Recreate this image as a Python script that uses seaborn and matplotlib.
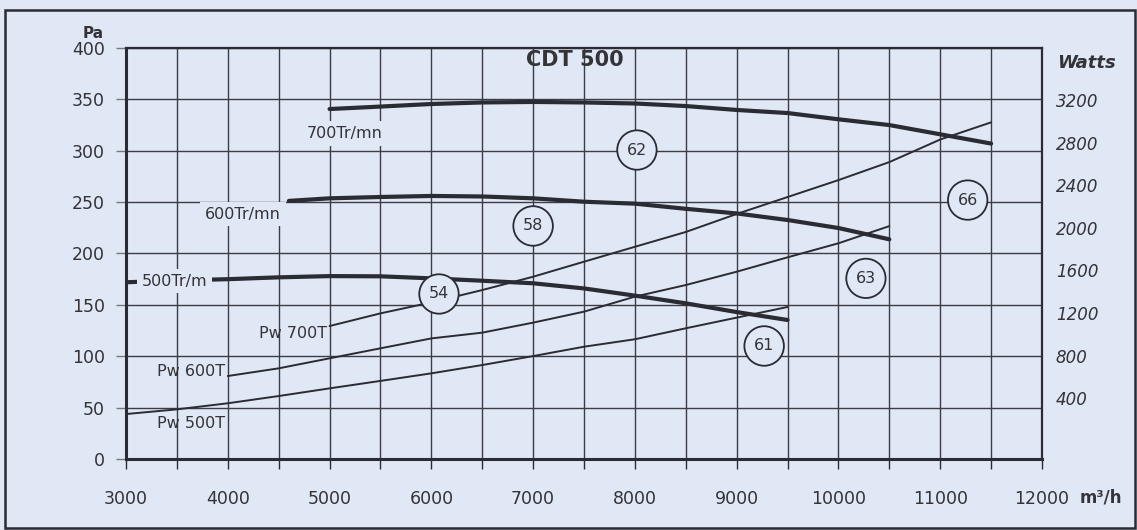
import numpy as np
import pandas as pd
import matplotlib
matplotlib.use('Agg')
import matplotlib.pyplot as plt
from matplotlib.patches import Rectangle
import seaborn as sns

# --- data ---
# pressure curves (Pa) vs airflow (m3/h)
q_700 = [5000, 5500, 6000, 6500, 7000, 7500, 8000, 8500, 9000, 9500, 10000, 10500, 11000, 11500]
pa_700 = [340.6, 343, 345.5, 347, 347.5, 347, 346, 343.5, 339.7, 336.7, 330.6, 325, 316, 307]

q_600 = [4600, 5000, 5500, 6000, 6500, 7000, 7500, 8000, 8500, 9000, 9500, 10000, 10500]
pa_600 = [251.2, 253.7, 255, 256, 255.5, 253.7, 250.4, 248.5, 243.5, 239, 232.6, 224.8, 213.8]

q_500 = [3000, 3500, 4000, 4500, 5000, 5500, 6000, 6500, 7000, 7500, 8000, 8500, 9000, 9500]
pa_500 = [172, 173.8, 175, 176.8, 178, 177.8, 175.8, 173.5, 171, 166, 159, 151.5, 143, 135.3]

# absorbed power curves (Watts)
q_pw700 = [5000, 5500, 6000, 6500, 7000, 7500, 8000, 8500, 9000, 9500, 10000, 10500, 11000, 11500]
w_pw700 = [1078, 1197, 1300, 1416, 1541, 1682, 1822, 1961, 2130, 2289, 2448, 2617, 2829, 2990]

q_pw600 = [4000, 4500, 5000, 5500, 6000, 6500, 7000, 7500, 8000, 8500, 9000, 9500, 10000, 10500]
w_pw600 = [609, 681, 775, 869, 962, 1016, 1110, 1213, 1354, 1463, 1588, 1723, 1855, 2016]

q_pw500 = [3000, 3500, 4000, 4500, 5000, 5500, 6000, 6500, 7000, 7500, 8000, 8500, 9000, 9500]
w_pw500 = [252, 296, 353, 421, 493, 563, 634, 712, 796, 884, 954, 1057, 1157, 1257]

# efficiency / noise bubbles
bubble_q = [8020, 7000, 6075, 11270, 10270, 9270]
bubble_pa = [300.7, 226.8, 160.6, 252, 175.8, 110]
bubble_txt = ['62', '58', '54', '66', '63', '61']

# curve labels
speed_labels = ['700Tr/mn', '600Tr/mn', '500Tr/m']
speed_lab_q = [4778, 3776, 3157]
speed_lab_pa = [317, 238.4, 173.2]

pw_labels = ['Pw 700T', 'Pw 600T', 'Pw 500T']
pw_lab_q = [4306, 3305, 3305]
pw_lab_pa = [122.6, 84.7, 35]

x_ticks = list(range(3000, 12001, 1000))
y_ticks = list(range(0, 401, 50))
watt_ticks = [400, 800, 1200, 1600, 2000, 2400, 2800, 3200]

BG = '#E0E8F5'
INK = '#2b2b33'
TXT = '#333338'

sns.set_theme(style='white')
plt.rcParams['font.family'] = ['DejaVu Sans']

fig = plt.figure(figsize=(11.37, 5.30), dpi=100, facecolor=BG)
ax = fig.add_axes([126 / 1137, (530 - 459) / 530, 916 / 1137, 411 / 530])
ax.set_facecolor(BG)

# outer frame
fig.patches.append(Rectangle((5 / 1137, 2 / 530), 1130 / 1137, 518 / 530,
                             transform=fig.transFigure, fill=False,
                             edgecolor=INK, linewidth=1.8))

# pressure curves
for q, pa in [(q_700, pa_700), (q_600, pa_600), (q_500, pa_500)]:
    sns.lineplot(x=q, y=pa, ax=ax, color=INK, linewidth=3.0, sort=False,
                 estimator=None, zorder=3)

ax.set_xlim(3000, 12000)
ax.set_ylim(0, 400)
ax.set_xticks(x_ticks)
ax.set_xticks(list(range(3500, 12000, 1000)), minor=True)
ax.set_yticks(y_ticks)
ax.set_xticklabels([str(v) for v in x_ticks])
ax.set_yticklabels([str(v) for v in y_ticks])
ax.grid(True, which='both', color='#3c3c46', linewidth=1.0)
ax.set_axisbelow(True)
ax.tick_params(axis='x', which='both', direction='out', length=7, width=1.0,
               color=INK, pad=15, labelsize=12.5, labelcolor=TXT, bottom=True)
ax.tick_params(axis='y', direction='out', length=7, width=1.0, color='#777780',
               pad=8, labelsize=12.5, labelcolor=TXT, left=True)
for side in ['left', 'bottom']:
    ax.spines[side].set_linewidth(2.2)
    ax.spines[side].set_color(INK)
for side in ['top', 'right']:
    ax.spines[side].set_linewidth(1.6)
    ax.spines[side].set_color(INK)
ax.set_xlabel('')
ax.set_ylabel('')

# power axis on the right
ax2 = ax.twinx()
for q, w in [(q_pw700, w_pw700), (q_pw600, w_pw600), (q_pw500, w_pw500)]:
    sns.lineplot(x=q, y=w, ax=ax2, color=INK, linewidth=1.4, sort=False,
                 estimator=None, zorder=2)
ax2.set_ylim(-170, 3688)
ax2.set_yticks(watt_ticks)
ax2.set_yticklabels([str(v) for v in watt_ticks], fontstyle='italic')
ax2.tick_params(axis='y', length=0, pad=10, labelsize=12, labelcolor=TXT, right=True)
ax2.grid(False)
for s in ax2.spines.values():
    s.set_visible(False)
ax2.set_ylabel('')

# curve labels (on ax2 so they cover the curves, placed in Pa coordinates)
for t, q, p in zip(speed_labels, speed_lab_q, speed_lab_pa):
    ax2.text(q, p, t, transform=ax.transData, ha='left', va='center',
             fontsize=11.5, color=TXT, zorder=5,
             bbox=dict(boxstyle='square,pad=0.3', facecolor=BG, edgecolor='none'))
for t, q, p in zip(pw_labels, pw_lab_q, pw_lab_pa):
    ax2.text(q, p, t, transform=ax.transData, ha='left', va='center',
             fontsize=11.5, color=TXT, zorder=5)

for t, q, p in zip(bubble_txt, bubble_q, bubble_pa):
    ax2.text(q, p, t, transform=ax.transData, ha='center', va='center',
             fontsize=11.5, color=TXT, zorder=6,
             bbox=dict(boxstyle='circle,pad=0.6', facecolor=BG, edgecolor=INK,
                       linewidth=1.3))

# titles and units
ax2.text(0.49, 0.995, 'CDT 500', transform=ax.transAxes, ha='center', va='top',
         fontsize=15, fontweight='bold', color=TXT, zorder=6)
fig.text(104 / 1137, 1 - 33 / 530, 'Pa', ha='right', va='center', fontsize=11,
         fontweight='bold', color=TXT)
fig.text(1057 / 1137, 1 - 63 / 530, 'Watts', ha='left', va='center', fontsize=13,
         fontweight='bold', fontstyle='italic', color=TXT)
fig.text(1080 / 1137, 1 - 498 / 530, 'm³/h', ha='left', va='center', fontsize=12,
         fontweight='bold', color=TXT)

fig.savefig('out.png', dpi=100, facecolor=BG)
